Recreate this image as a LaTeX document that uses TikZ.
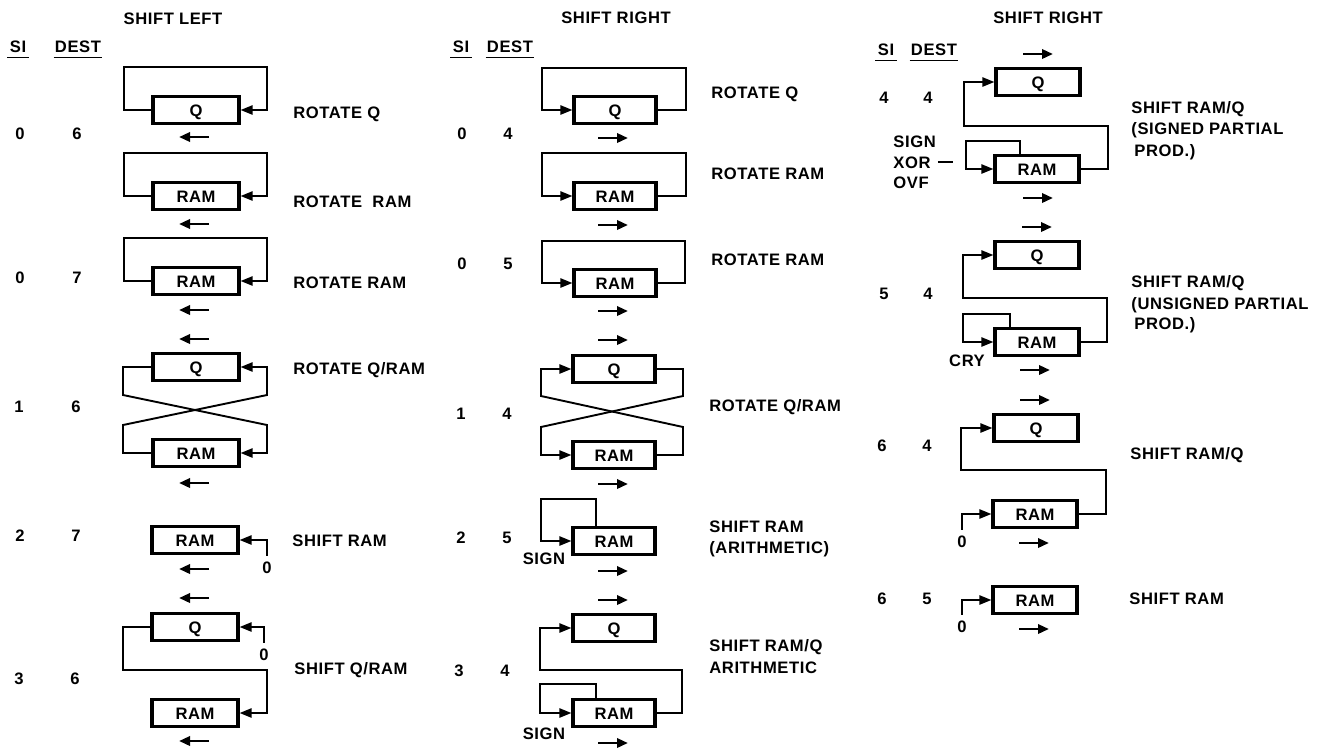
\documentclass[tikz,border=0pt]{standalone}
\usepackage{fontspec}
\setmainfont{Liberation Sans}[LetterSpace=3.5]
\usetikzlibrary{arrows.meta,calc}
\begin{document}
\begin{tikzpicture}[x=0.5pt,y=-0.5pt,
  txt/.style={font=\fontsize{8.3}{10}\selectfont\bfseries, inner sep=0pt, text height=6pt, text depth=0pt},
  lbl/.style={txt, anchor=west},
  box/.style={draw, line width=1.6pt, minimum width=#1, minimum height=13.5pt, inner sep=0pt,
              font=\fontsize{8.3}{10}\selectfont\bfseries, text height=6pt, text depth=0pt},
  box/.default=42pt,
  conn/.style={line width=0.95pt},
  into/.style={conn, -{Triangle[length=6pt,width=4.6pt]}},
  sarrow/.style={line width=1.35pt, -{Triangle[length=5.5pt,width=4.6pt]}},
  uline/.style={line width=0.9pt}]
\fill[white] (0,0) rectangle (1319,751);
\useasboundingbox (0,0) rectangle (1319,751);

% ================= LEFT COLUMN =================
\node[txt] (hL) at (173,18) {SHIFT LEFT};
\node[txt] (siL) at (18,46) {SI};
\node[txt] (dsL) at (78,46) {DEST};
\draw[uline] ([xshift=-1pt,yshift=-2.5pt]siL.south west) -- ([xshift=1pt,yshift=-2.5pt]siL.south east);
\draw[uline] ([xshift=-0.5pt,yshift=-2.5pt]dsL.south west) -- ([xshift=0.5pt,yshift=-2.5pt]dsL.south east);

\node[box=43pt] (L1) at (196,110) {Q};
\draw[into] (L1.west) -| (124,67) -- (267,67) |- (L1.east);
\node[lbl] (L1t) at (293,112) {ROTATE Q};
\node[txt] (L1s) at (20,133) {0};
\node[txt] (L1d) at (77,133) {6};
\draw[sarrow] (209,137) -- (179,137);

\node[box=43pt] (L2) at (196,196) {RAM};
\draw[into] (L2.west) -| (124,153) -- (267,153) |- (L2.east);
\node[lbl] (L2t) at (293,201) {ROTATE\ \ RAM};
\draw[sarrow] (209,224) -- (179,224);

\node[box=43pt] (L3) at (196,281) {RAM};
\draw[into] (L3.west) -| (124,238) -- (267,238) |- (L3.east);
\node[lbl] (L3t) at (293,282) {ROTATE RAM};
\node[txt] (L3s) at (20,277) {0};
\node[txt] (L3d) at (77,277) {7};
\draw[sarrow] (209,310) -- (179,310);

\draw[sarrow] (209,339) -- (179,339);
\node[box=43pt] (L4q) at (196,367) {Q};
\node[box=43pt] (L4r) at (196,453) {RAM};
\draw[into] (L4q.west) -| (123,395) -- (267,425) |- (L4r.east);
\draw[into] (L4r.west) -| (123,425) -- (267,395) |- (L4q.east);
\node[lbl] (L4t) at (293,368) {ROTATE Q/RAM};
\node[txt] (L4s) at (19,406) {1};
\node[txt] (L4d) at (76,406) {6};
\draw[sarrow] (209,483) -- (179,483);

\node[box=43pt] (L5) at (195,540) {RAM};
\node[txt] (L5z) at (267,567) {0};
\draw[into] ([yshift=2.5pt]L5z.north) |- (L5.east);
\node[lbl] (L5t) at (292,540) {SHIFT RAM};
\node[txt] (L5s) at (20,535) {2};
\node[txt] (L5d) at (76,535) {7};
\draw[sarrow] (209,569) -- (179,569);

\draw[sarrow] (209,598) -- (179,598);
\node[box=43pt] (L6q) at (195,627) {Q};
\node[txt] (L6z) at (264,654) {0};
\draw[into] ([yshift=2.5pt]L6z.north) |- (L6q.east);
\node[box=43pt] (L6r) at (195,713) {RAM};
\draw[into] (L6q.west) -| (123,670) -- (267,670) |- (L6r.east);
\node[lbl] (L6t) at (294,668) {SHIFT Q/RAM};
\node[txt] (L6s) at (19,678) {3};
\node[txt] (L6d) at (75,678) {6};
\draw[sarrow] (209,741) -- (179,741);

% ================= MIDDLE COLUMN =================
\node[txt] (hM) at (616,17) {SHIFT RIGHT};
\node[txt] (siM) at (461,46) {SI};
\node[txt] (dsM) at (510,46) {DEST};
\draw[uline] ([xshift=-1pt,yshift=-2.5pt]siM.south west) -- ([xshift=1pt,yshift=-2.5pt]siM.south east);
\draw[uline] ([xshift=-0.5pt,yshift=-2.5pt]dsM.south west) -- ([xshift=0.5pt,yshift=-2.5pt]dsM.south east);

\node[box=41pt] (M1) at (615,110) {Q};
\draw[into] (M1.east) -| (686,68) -- (542,68) |- (M1.west);
\node[lbl] (M1t) at (711,92) {ROTATE Q};
\node[txt] (M1s) at (462,133) {0};
\node[txt] (M1d) at (508,133) {4};
\draw[sarrow] (598,138) -- (628,138);

\node[box=41pt] (M2) at (615,196) {RAM};
\draw[into] (M2.east) -| (686,153) -- (542,153) |- (M2.west);
\node[lbl] (M2t) at (711,173) {ROTATE RAM};
\draw[sarrow] (598,225) -- (628,225);

\node[box=41pt] (M3) at (615,283) {RAM};
\draw[into] (M3.east) -| (685,241) -- (542,241) |- (M3.west);
\node[lbl] (M3t) at (711,259) {ROTATE RAM};
\node[txt] (M3s) at (462,263) {0};
\node[txt] (M3d) at (508,263) {5};
\draw[sarrow] (598,311) -- (628,311);

\draw[sarrow] (598,340) -- (628,340);
\node[box=41pt] (M4q) at (614,369) {Q};
\node[box=41pt] (M4r) at (614,455) {RAM};
\draw[into] (M4q.east) -| (683,396) -- (541,427) |- (M4r.west);
\draw[into] (M4r.east) -| (683,427) -- (541,396) |- (M4q.west);
\node[lbl] (M4t) at (709,405) {ROTATE Q/RAM};
\node[txt] (M4s) at (461,413) {1};
\node[txt] (M4d) at (507,413) {4};
\draw[sarrow] (598,484) -- (628,484);

\node[box=41pt] (M5) at (614,541) {RAM};
\draw[into] ([xshift=-9pt]M5.north) |- (541,499) |- (M5.west);
\node[txt] (M5g) at (544,558) {SIGN};
\node[lbl] (M5t) at (709,526) {SHIFT RAM};
\node[lbl] (M5u) at (709,547) {(ARITHMETIC)};
\node[txt] (M5s) at (461,537) {2};
\node[txt] (M5d) at (507,537) {5};
\draw[sarrow] (598,571) -- (628,571);

\draw[sarrow] (598,600) -- (628,600);
\node[box=41pt] (M6q) at (614,628) {Q};
\node[box=41pt] (M6r) at (614,713) {RAM};
\draw[into] (M6r.east) -| (682,670) -- (540,670) |- (M6q.west);
\draw[into] ([xshift=-9pt]M6r.north) |- (540,684) |- (M6r.west);
\node[txt] (M6g) at (544,733) {SIGN};
\node[lbl] (M6t) at (709,645) {SHIFT RAM/Q};
\node[lbl] (M6u) at (709,667) {ARITHMETIC};
\node[txt] (M6s) at (459,670) {3};
\node[txt] (M6d) at (505,670) {4};
\draw[sarrow] (598,743) -- (628,743);

% ================= RIGHT COLUMN =================
\node[txt] (hR) at (1048,17) {SHIFT RIGHT};
\node[txt] (siR) at (886,49) {SI};
\node[txt] (dsR) at (934,49) {DEST};
\draw[uline] ([xshift=-1pt,yshift=-2.5pt]siR.south west) -- ([xshift=1pt,yshift=-2.5pt]siR.south east);
\draw[uline] ([xshift=-0.5pt,yshift=-2.5pt]dsR.south west) -- ([xshift=0.5pt,yshift=-2.5pt]dsR.south east);

\draw[sarrow] (1023,54) -- (1053,54);
\node[box] (R1q) at (1038,82) {Q};
\node[box] (R1r) at (1037,169) {RAM};
\draw[into] (R1r.east) -| (1108,126) -- (964,126) |- (R1q.west);
\draw[into] ([xshift=-8.5pt]R1r.north) |- (966,141) |- (R1r.west);
\node[lbl] (R1a) at (893,141) {SIGN};
\node[lbl] (R1b) at (893,162) {XOR};
\node[lbl] (R1c) at (893,182) {OVF};
\draw[conn] ([xshift=3.5pt]R1b.east) -- ++(15,0);
\node[txt] (R1s) at (884,97) {4};
\node[txt] (R1d) at (928,97) {4};
\node[lbl] (R1t) at (1131,107) {SHIFT RAM/Q};
\node[lbl] (R1u) at (1131,128) {(SIGNED PARTIAL};
\node[lbl] (R1v) at (1134,150) {PROD.)};
\draw[sarrow] (1023,198) -- (1053,198);

\draw[sarrow] (1022,227) -- (1052,227);
\node[box] (R2q) at (1037,255) {Q};
\node[box] (R2r) at (1037,342) {RAM};
\draw[into] (R2r.east) -| (1107,298) -- (963,298) |- (R2q.west);
\draw[into] ([xshift=-13.5pt]R2r.north) |- (963,314) |- (R2r.west);
\node[txt] (R2c) at (967,360) {CRY};
\node[txt] (R2s) at (884,293) {5};
\node[txt] (R2d) at (928,293) {4};
\node[lbl] (R2t) at (1131,281) {SHIFT RAM/Q};
\node[lbl] (R2u) at (1131,303) {(UNSIGNED PARTIAL};
\node[lbl] (R2v) at (1134,323) {PROD.)};
\draw[sarrow] (1020,370) -- (1050,370);

\draw[sarrow] (1020,400) -- (1050,400);
\node[box] (R3q) at (1036,428) {Q};
\node[box] (R3r) at (1035,514) {RAM};
\draw[into] (R3r.east) -| (1106,470) -- (961,470) |- (R3q.west);
\node[txt] (R3z) at (962,541) {0};
\draw[into] ([yshift=2.5pt]R3z.north) |- (R3r.west);
\node[txt] (R3s) at (882,445) {6};
\node[txt] (R3d) at (927,445) {4};
\node[lbl] (R3t) at (1130,453) {SHIFT RAM/Q};
\draw[sarrow] (1019,543) -- (1049,543);

\node[box] (R4) at (1035,600) {RAM};
\node[txt] (R4z) at (962,626) {0};
\draw[into] ([yshift=2.5pt]R4z.north) |- (R4.west);
\node[txt] (R4s) at (882,598) {6};
\node[txt] (R4d) at (927,598) {5};
\node[lbl] (R4t) at (1129,598) {SHIFT RAM};
\draw[sarrow] (1019,629) -- (1049,629);
\end{tikzpicture}
\end{document}
